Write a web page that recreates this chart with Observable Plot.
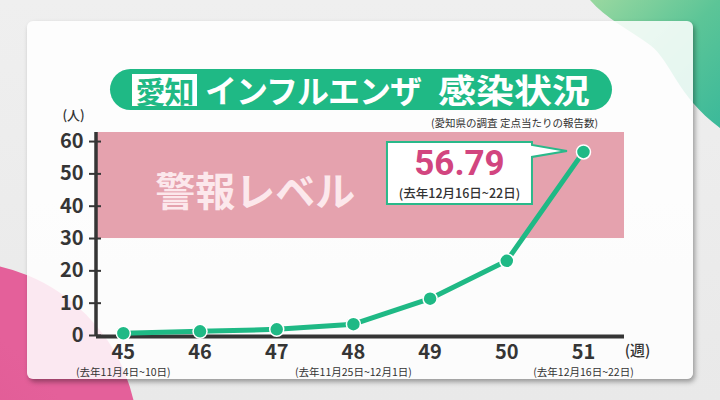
<!DOCTYPE html>
<html lang="ja">
<head>
<meta charset="utf-8">
<script src="https://cdn.jsdelivr.net/npm/d3@7"></script>
<script src="https://cdn.jsdelivr.net/npm/@observablehq/plot@0.6"></script>
<style>
  html, body { margin: 0; padding: 0; }
  body { width: 720px; height: 400px; overflow: hidden; font-family: "Noto Sans CJK JP", "Noto Sans", sans-serif; }
  #stage { position: relative; width: 720px; height: 400px; background: linear-gradient(180deg, #efefef 0%, #e9e9e9 100%); overflow: hidden; }
  #deco { position: absolute; left: 0; top: 0; }
  #card { position: absolute; left: 27px; top: 21px; width: 666px; height: 358px; border-radius: 6px;
          background: rgba(255,255,255,0.86); box-shadow: 2px 3px 5px rgba(0,0,0,0.35); }
  #pill { position: absolute; left: 110px; top: 69px; width: 502px; height: 41px; border-radius: 21px;
          background: #1fb985; display: flex; align-items: center; box-sizing: border-box; padding-left: 22px; }
  #pill .box { background: #fff; color: #1fb985; width: 65px; height: 32px; font-size: 30px; font-weight: 700;
               line-height: 32px; text-align: center; letter-spacing: -1px; }
  #pill .t1 { color: #fff; font-size: 32px; font-weight: 700; margin-left: 8px; letter-spacing: -1px; line-height: 41px; }
  #pill .t2 { display: inline-block; color: #fff; font-size: 33px; font-weight: 700; margin-left: 17px; line-height: 41px;
              transform: scaleX(1.15); transform-origin: left center; }
  #note { position: absolute; right: 122px; top: 115px; font-size: 10.5px; color: #333; white-space: nowrap; }
  #chart { position: absolute; left: 0; top: 0; }
</style>
</head>
<body>
<div id="stage">
  <svg id="deco" width="720" height="400">
    <defs>
      <radialGradient id="pinkG" cx="0" cy="1" r="1">
        <stop offset="0" stop-color="#d9508a"/>
        <stop offset="1" stop-color="#e4609a"/>
      </radialGradient>
      <linearGradient id="greenG" x1="0" y1="0" x2="1" y2="1">
        <stop offset="0" stop-color="#9ad8a0"/>
        <stop offset="0.5" stop-color="#5cc597"/>
        <stop offset="1" stop-color="#3bb99a"/>
      </linearGradient>
    </defs>
    <circle cx="-40" cy="440" r="178" fill="url(#pinkG)"/>
    <path d="M590,0 C605,18 630,30 650,45 C672,62 676,95 720,128 L720,0 Z" fill="url(#greenG)"/>
  </svg>
  <div id="card"></div>
  <div id="pill"><span class="box">愛知</span><span class="t1">インフルエンザ</span><span class="t2">感染状況</span></div>
  <div id="note">(愛知県の調査 定点当たりの報告数)</div>
  <div id="chart"></div>
</div>
<script>
// ---- data ----
const weeks = [45, 46, 47, 48, 49, 50, 51];
const values = [0.7, 1.3, 1.9, 3.5, 11.4, 23.1, 56.79];
const yTicks = [0, 10, 20, 30, 40, 50, 60];
const subLabelWeeks = [45, 48, 51];
const subLabels = ["(去年11月4日~10日)", "(去年11月25日~12月1日)", "(去年12月16日~22日)"];
const alertBand = [30, 62.8];
const alertLabel = "警報レベル";
const calloutValue = "56.79";
const calloutPeriod = "(去年12月16日~22日)";
const yUnit = "(人)";
const xUnit = "(週)";
const xDomain = [44.65, 51.535];

const GREEN = "#1fb985";
const AXIS = "#353535";
const FONT = "'Noto Sans CJK JP', 'Noto Sans', sans-serif";

const data = weeks.map((w, i) => ({week: w, value: values[i]}));
const subs = subLabelWeeks.map((w, i) => ({week: w, label: subLabels[i]}));
const last = data[data.length - 1];

function callout(index, scales) {
  const px = scales.x(last.week), py = scales.y(last.value);
  const L = px - 196, R = px - 51, T = py - 9.5, B = py + 52.5;
  const g = d3.create("svg:g");
  g.append("path")
    .attr("d", `M${L},${T}H${R}V${T + 3}L${px - 16},${py - 0.5}L${R},${T + 15}V${B}H${L}Z`)
    .attr("fill", "#fff").attr("stroke", "#2ab98a").attr("stroke-width", 2).attr("stroke-linejoin", "miter");
  const cx = (L + R) / 2;
  g.append("text").attr("x", cx).attr("y", py + 24).attr("text-anchor", "middle")
    .attr("font-size", 35).attr("font-weight", 700).attr("fill", "#d2457f")
    .attr("font-family", "Roboto, 'Noto Sans', sans-serif")
    .text(calloutValue);
  g.append("text").attr("x", cx).attr("y", py + 46.5).attr("text-anchor", "middle")
    .attr("font-size", 12.5).attr("font-weight", 500).attr("fill", "#333").attr("font-family", FONT)
    .text(calloutPeriod);
  return g.node();
}

const plot = Plot.plot({
  width: 720,
  height: 400,
  marginLeft: 96,
  marginRight: 96,
  marginTop: 132,
  marginBottom: 65,
  style: {background: "transparent", fontFamily: FONT, color: AXIS, overflow: "visible"},
  x: {domain: xDomain, axis: null},
  y: {domain: [0, alertBand[1]], axis: null},
  marks: [
    Plot.rect([{x1: xDomain[0], x2: xDomain[1], y1: alertBand[0], y2: alertBand[1]}],
      {x1: "x1", x2: "x2", y1: "y1", y2: "y2", fill: "#e5a2ae"}),
    Plot.text([{x: weeks[0], y: (alertBand[0] + alertBand[1]) / 2, t: alertLabel}],
      {x: "x", y: "y", text: "t", dx: 32, dy: 8, textAnchor: "start", fontSize: 40, fontWeight: 700, fill: "#fce8ec"}),
    // y axis ticks crossing the axis line
    Plot.axisY({ticks: yTicks, tickSize: 12, dx: 5, text: null, stroke: AXIS, strokeWidth: 2}),
    Plot.axisY({ticks: yTicks, tickSize: 0, tickPadding: 13, fontSize: 20, fontWeight: 600, fill: AXIS}),
    Plot.ruleX([xDomain[0]], {y1: 0, y2: alertBand[1], stroke: AXIS, strokeWidth: 3.5, dx: -0.5}),
    Plot.ruleY([0], {x1: xDomain[0], x2: xDomain[1], stroke: AXIS, strokeWidth: 4, dy: 1}),
    Plot.axisX({ticks: weeks, tickSize: 0, tickPadding: 9, fontSize: 20, fontWeight: 600, fill: AXIS, tickFormat: d => String(d)}),
    Plot.text(subs, {x: "week", y: 0, text: "label", dy: 37, fontSize: 10.5, fill: "#333"}),
    Plot.text([xUnit], {frameAnchor: "bottom-right", dx: 13, dy: 20, textAnchor: "middle", fontSize: 15, fontWeight: 500, fill: "#333"}),
    Plot.text([yUnit], {frameAnchor: "top-left", dx: -23, dy: -17, textAnchor: "middle", lineAnchor: "middle", fontSize: 13, fontWeight: 500, fill: "#333"}),
    Plot.line(data, {x: "week", y: "value", stroke: GREEN, strokeWidth: 5, strokeLinejoin: "round"}),
    Plot.dot(data, {x: "week", y: "value", r: 7, fill: GREEN, stroke: "#fff", strokeWidth: 1.5}),
    callout
  ]
});
document.getElementById("chart").appendChild(plot);
</script>
</body>
</html>
